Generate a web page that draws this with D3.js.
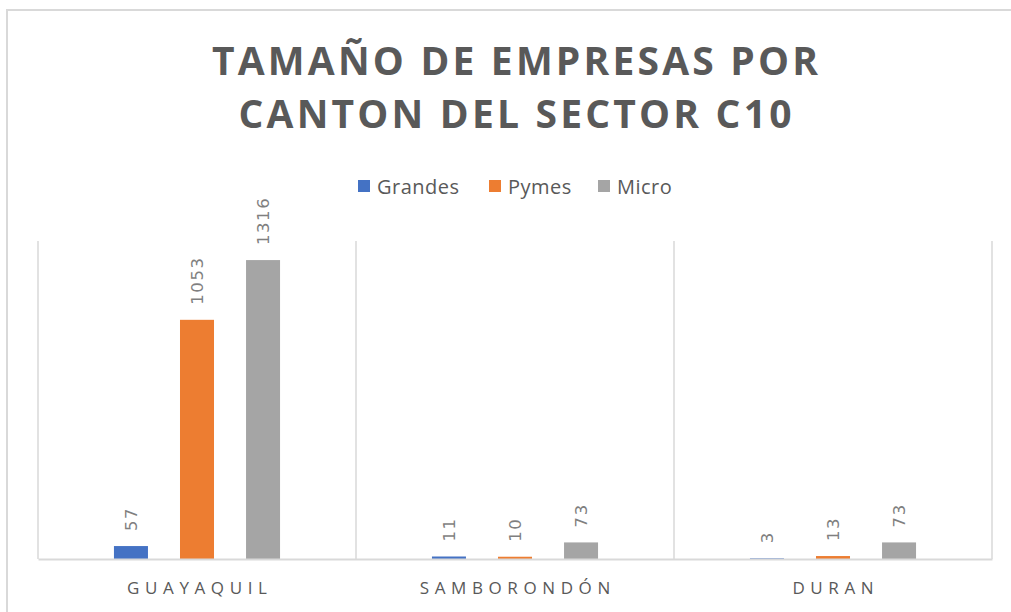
<!DOCTYPE html>
<html>
<head>
<meta charset="utf-8">
<script src="https://cdn.jsdelivr.net/npm/d3@7/dist/d3.min.js"></script>
<style>
  html, body { margin: 0; padding: 0; background: #fff; }
  svg { display: block; }
</style>
</head>
<body>
<svg id="chart" width="1011" height="612"></svg>
<script>
const categories = ["GUAYAQUIL", "SAMBORONDÓN", "DURAN"];
const seriesNames = ["Grandes", "Pymes", "Micro"];
const grandes = [57, 11, 3];
const pymes = [1053, 10, 13];
const micro = [1316, 73, 73];
const seriesColors = ["#4472C4", "#ED7D31", "#A5A5A5"];
const titleLines = ["TAMAÑO DE EMPRESAS POR", "CANTON DEL SECTOR C10"];
const yMax = 1400;

const seriesValues = [grandes, pymes, micro];
const data = categories.map((c, i) => ({
  cat: c,
  values: seriesNames.map((s, j) => ({ series: s, value: seriesValues[j][i], color: seriesColors[j] }))
}));

const svg = d3.select("#chart");
const W = 1011, H = 612;
const plot = { left: 38, right: 992, top: 241, bottom: 559 };

// chart border
svg.append("rect")
  .attr("x", 7).attr("y", 10)
  .attr("width", W + 10).attr("height", H + 10)
  .attr("fill", "#fff")
  .attr("stroke", "#d9d9d9").attr("stroke-width", 2);

// title
const title = svg.append("g");
titleLines.forEach((t, i) => {
  title.append("text")
    .attr("x", 515 + 1.6)
    .attr("y", 75 + i * 53)
    .attr("text-anchor", "middle")
    .attr("font-family", "'Open Sans', sans-serif")
    .attr("font-weight", 700)
    .attr("font-size", 39)
    .attr("letter-spacing", 3.2)
    .attr("fill", "#595959")
    .text(t);
});

// legend
const legend = svg.append("g");
const legendX = [358, 489, 598];
seriesNames.forEach((s, i) => {
  const g = legend.append("g").attr("transform", `translate(${legendX[i]},0)`);
  g.append("rect").attr("x", 0).attr("y", 180).attr("width", 12).attr("height", 12).attr("fill", seriesColors[i]);
  g.append("text")
    .attr("x", 19).attr("y", 194)
    .attr("font-family", "'Open Sans', sans-serif")
    .attr("font-size", 20)
    .attr("letter-spacing", 0.5)
    .attr("fill", "#595959")
    .text(s);
});

// scales
const x = d3.scaleBand().domain(categories).range([plot.left, plot.right]).padding(0);
const xs = d3.scaleBand().domain(seriesNames).range([0, x.bandwidth()])
  .paddingInner(0.485).paddingOuter(1.15);
const y = d3.scaleLinear().domain([0, yMax]).range([plot.bottom, plot.top]);

// vertical gridlines at category boundaries
const bounds = categories.map(c => x(c)).concat([x(categories[categories.length - 1]) + x.bandwidth()]);
svg.append("g").selectAll("line").data(bounds).join("line")
  .attr("x1", d => d).attr("x2", d => d)
  .attr("y1", plot.top).attr("y2", plot.bottom)
  .attr("stroke", "#d9d9d9").attr("stroke-width", 1.5);

// bars
const groups = svg.append("g").selectAll("g").data(data).join("g")
  .attr("transform", d => `translate(${x(d.cat)},0)`);
groups.selectAll("rect").data(d => d.values).join("rect")
  .attr("x", d => xs(d.series))
  .attr("width", xs.bandwidth())
  .attr("y", d => y(d.value))
  .attr("height", d => y(0) - y(d.value))
  .attr("fill", d => d.color);

// data labels
groups.selectAll("text").data(d => d.values).join("text")
  .attr("transform", d => `translate(${xs(d.series) + xs.bandwidth() / 2 + 6},${y(d.value) - 15}) rotate(-90)`)
  .attr("text-anchor", "start")
  .attr("font-family", "'DejaVu Sans', sans-serif")
  .attr("font-size", 16.5)
  .attr("letter-spacing", 1.6)
  .attr("fill", "#7f7f7f")
  .text(d => d.value);

// x axis line
const xAxis = d3.axisBottom(x).tickSize(0).tickPadding(0);
const ax = svg.append("g").attr("transform", `translate(0,${plot.bottom})`).call(xAxis);
ax.select(".domain").attr("stroke", "#d9d9d9").attr("stroke-width", 2);
ax.selectAll(".tick text")
  .attr("y", 35)
  .attr("dy", 0)
  .attr("dx", 2.8)
  .attr("font-family", "'Open Sans', sans-serif")
  .attr("font-size", 17)
  .attr("letter-spacing", 5.6)
  .attr("fill", "#595959");
</script>
</body>
</html>
